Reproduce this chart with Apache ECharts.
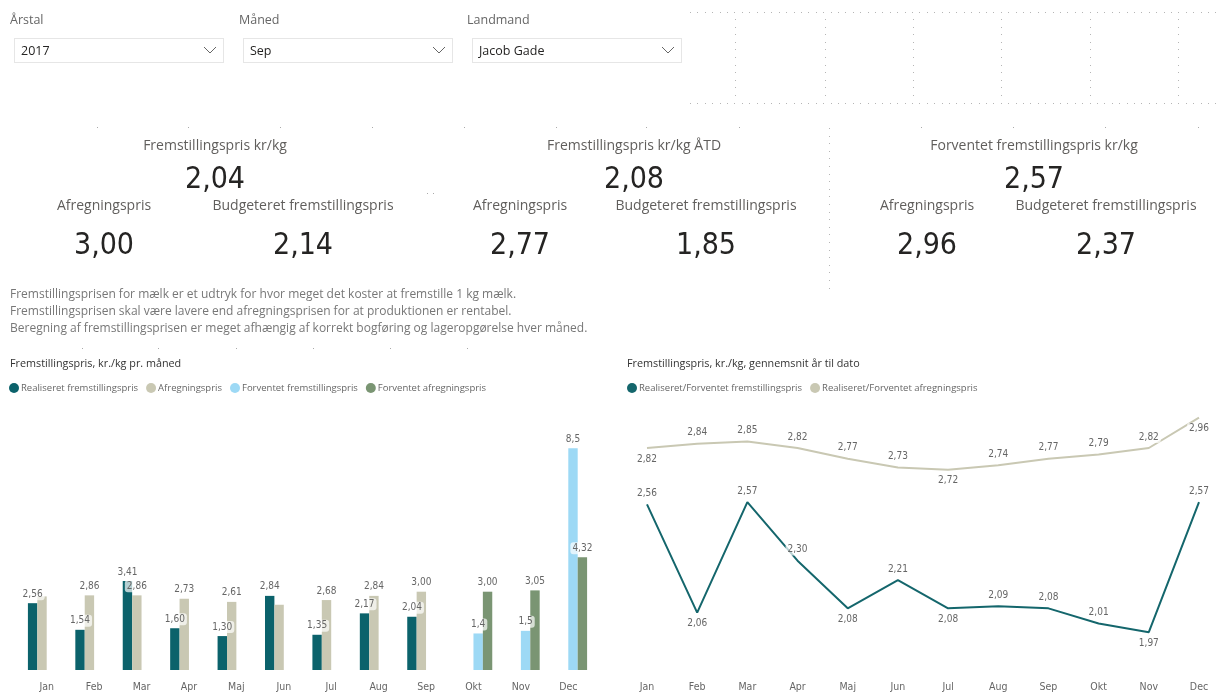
<!DOCTYPE html>
<html>
<head>
<meta charset="utf-8">
<script src="https://cdn.jsdelivr.net/npm/echarts@6/dist/echarts.min.js"></script>
<style>
  html, body { margin: 0; padding: 0; background: #fff; }
  body { width: 1219px; height: 693px; position: relative; overflow: hidden; font-family: 'Open Sans', 'Noto Sans', sans-serif; }
  #chart { position: absolute; left: 0; top: 0; width: 1219px; height: 693px; }
  .abs { position: absolute; white-space: nowrap; }
  .slicer-title { font-size: 12.5px; color: #666; }
  .slicer-box { position: absolute; top: 38px; width: 210px; height: 25px; border: 1px solid #e6e6e6; box-sizing: border-box; font-size: 12.5px; color: #252423; line-height: 24px; padding-left: 6px; }
  .slicer-box svg { position: absolute; right: 6px; top: 7px; }
  .c { transform: translate(-50%, -50%); }
  .kpi-label { font-size: 14px; color: #605e5c; }
  .kpi-value { font-size: 30px; color: #252423; font-family: 'Liberation Sans Narrow', 'DejaVu Sans Condensed', 'Roboto', sans-serif; }
  .desc { left: 10px; font-size: 12px; color: #777; line-height: 17px; }
  .hdots { position: absolute; height: 1px; background: repeating-linear-gradient(to right, #b5b5b5 0 1px, transparent 1px 7.4px); }
  .vdots { position: absolute; width: 1px; background: repeating-linear-gradient(to bottom, #b5b5b5 0 1px, transparent 1px 7.6px); }
  .dot { position: absolute; width: 1px; height: 1px; background: #aaa; }
</style>
</head>
<body>
<div id="chart"></div>

<!-- slicers -->
<div class="abs slicer-title" style="left:10px; top:11px;">Årstal</div>
<div class="slicer-box" style="left:14px;">2017<svg width="14" height="9"><polyline points="1,1 7,7 13,1" fill="none" stroke="#666" stroke-width="1"/></svg></div>
<div class="abs slicer-title" style="left:239px; top:11px;">Måned</div>
<div class="slicer-box" style="left:243px;">Sep<svg width="14" height="9"><polyline points="1,1 7,7 13,1" fill="none" stroke="#666" stroke-width="1"/></svg></div>
<div class="abs slicer-title" style="left:467px; top:11px;">Landmand</div>
<div class="slicer-box" style="left:472px;">Jacob Gade<svg width="14" height="9"><polyline points="1,1 7,7 13,1" fill="none" stroke="#666" stroke-width="1"/></svg></div>

<!-- empty placeholder visuals, top right -->
<div class="hdots" style="left:690px; top:12px; width:529px;"></div>
<div class="hdots" style="left:690px; top:103px; width:529px;"></div>
<div class="vdots" style="left:735px; top:19px; height:80px;"></div>
<div class="vdots" style="left:825px; top:19px; height:80px;"></div>
<div class="vdots" style="left:913px; top:19px; height:80px;"></div>
<div class="vdots" style="left:1001px; top:19px; height:80px;"></div>
<div class="vdots" style="left:1090px; top:19px; height:80px;"></div>
<div class="vdots" style="left:1178px; top:19px; height:80px;"></div>

<!-- KPI cards -->
<div id="kpis"></div>

<div class="vdots" style="left:829px; top:128px; height:165px;"></div>

<div class="abs desc" style="top:285px;">Fremstillingsprisen for mælk er et udtryk for hvor meget det koster at fremstille 1 kg mælk.<br>Fremstillingsprisen skal være lavere end afregningsprisen for at produktionen er rentabel.<br>Beregning af fremstillingsprisen er meget afhængig af korrekt bogføring og lageropgørelse hver måned.</div>

<script>
// KPI cards
const kpiTitles = ['Fremstillingspris kr/kg', 'Fremstillingspris kr/kg ÅTD', 'Forventet fremstillingspris kr/kg']
const kpiMain = ['2,04', '2,08', '2,57']
const kpiAfregning = ['3,00', '2,77', '2,96']
const kpiBudget = ['2,14', '1,85', '2,37']

// bar chart: monthly price
const months = ['Jan', 'Feb', 'Mar', 'Apr', 'Maj', 'Jun', 'Jul', 'Aug', 'Sep', 'Okt', 'Nov', 'Dec']
const realiseret = [2.56, 1.54, 3.41, 1.60, 1.30, 2.84, 1.35, 2.17, 2.04, null, null, null]
const afregning = [2.82, 2.86, 2.86, 2.73, 2.61, 2.50, 2.68, 2.84, 3.00, null, null, null]
const forventetFrem = [null, null, null, null, null, null, null, null, null, 1.4, 1.5, 8.5]
const forventetAfr = [null, null, null, null, null, null, null, null, null, 3.00, 3.05, 4.32]
const hiddenAfrLabels = ['Jan', 'Jun']

// line chart: year to date average
const ytdFrem = [2.56, 2.06, 2.57, 2.30, 2.08, 2.21, 2.08, 2.09, 2.08, 2.01, 1.97, 2.57]
const ytdAfr = [2.82, 2.84, 2.85, 2.82, 2.77, 2.73, 2.72, 2.74, 2.77, 2.79, 2.82, 2.96]

const kpiCenters = [[215, 104, 303], [634, 520, 706], [1034, 927, 1106]]
const kpiHtml = []
kpiTitles.forEach((t, i) => {
  const [cx, ax, bx] = kpiCenters[i]
  kpiHtml.push(`<div class="abs c kpi-label" style="left:${cx}px;top:144px">${t}</div>`)
  kpiHtml.push(`<div class="abs c kpi-value" style="left:${cx}px;top:177px">${kpiMain[i]}</div>`)
  kpiHtml.push(`<div class="abs c kpi-label" style="left:${ax}px;top:204px">Afregningspris</div>`)
  kpiHtml.push(`<div class="abs c kpi-label" style="left:${bx}px;top:204px">Budgeteret fremstillingspris</div>`)
  kpiHtml.push(`<div class="abs c kpi-value" style="left:${ax}px;top:243px">${kpiAfregning[i]}</div>`)
  kpiHtml.push(`<div class="abs c kpi-value" style="left:${bx}px;top:243px">${kpiBudget[i]}</div>`)
})
// loose placeholder dots
;[97, 188, 280, 372, 464, 556, 646, 739, 921, 1013, 1105, 1198].forEach(x => {
  kpiHtml.push(`<div class="dot" style="left:${x}px;top:127px"></div>`)
})
;[82, 158, 236, 313, 390, 467].forEach(x => {
  kpiHtml.push(`<div class="dot" style="left:${x}px;top:348px"></div>`)
})
kpiHtml.push('<div class="dot" style="left:427px;top:193px"></div><div class="dot" style="left:433px;top:193px"></div>')
document.getElementById('kpis').innerHTML = kpiHtml.join('')

const narrow = "'Liberation Sans Narrow', 'DejaVu Sans Condensed', 'Roboto', sans-serif"
const uiFont = "'Open Sans', 'Noto Sans', sans-serif"
const labelBox = {
  fontSize: 10,
  color: '#666',
  fontFamily: narrow,
  backgroundColor: 'rgba(255,255,255,0.7)',
  padding: [1, 2],
  borderRadius: 3
}
const fmt2 = v => v.value == null ? '' : v.value.toFixed(2).replace('.', ',')
const fmt1 = v => v.value == null ? '' : String(v.value).replace('.', ',')

const fremPos = ['top', 'bottom', 'top', 'top', 'bottom', 'top', 'bottom', 'top', 'top', 'top', 'bottom', 'top']
const afrPos = ['bottom', 'top', 'top', 'top', 'top', 'top', 'bottom', 'top', 'top', 'top', 'top', 'bottom']

const chart = echarts.init(document.getElementById('chart'))
chart.setOption({
  animation: false,
  textStyle: { fontFamily: uiFont },
  title: [
    { text: 'Fremstillingspris, kr./kg pr. måned', left: 10, top: 358, padding: 0, textStyle: { fontSize: 10.8, fontWeight: 'normal', color: '#333', fontFamily: uiFont } },
    { text: 'Fremstillingspris, kr./kg, gennemsnit år til dato', left: 627, top: 358, padding: 0, textStyle: { fontSize: 10.8, fontWeight: 'normal', color: '#333', fontFamily: uiFont } }
  ],
  legend: [
    {
      left: 9, top: 383, padding: 0, icon: 'circle', itemWidth: 10, itemHeight: 10, itemGap: 8,
      textStyle: { fontSize: 9.5, color: '#666', fontFamily: uiFont, padding: [0, 0, 0, -3] },
      data: ['Realiseret fremstillingspris', 'Afregningspris', 'Forventet fremstillingspris', 'Forventet afregningspris']
    },
    {
      left: 627, top: 383, padding: 0, icon: 'circle', itemWidth: 10, itemHeight: 10, itemGap: 8,
      textStyle: { fontSize: 9.5, color: '#666', fontFamily: uiFont, padding: [0, 0, 0, -3] },
      data: ['Realiseret/Forventet fremstillingspris', 'Realiseret/Forventet afregningspris']
    }
  ],
  grid: [
    { left: 23, width: 569, top: 409, height: 261 },
    { left: 647, width: 552, top: 409, height: 260 }
  ],
  xAxis: [
    {
      gridIndex: 0, type: 'category', data: months,
      axisLine: { show: false }, axisTick: { show: false },
      axisLabel: { color: '#666', fontSize: 10.5, fontFamily: narrow, margin: 12 }
    },
    {
      gridIndex: 1, type: 'category', data: months, boundaryGap: false,
      axisLine: { show: false }, axisTick: { show: false },
      axisLabel: { color: '#666', fontSize: 10.5, fontFamily: narrow, margin: 13 }
    }
  ],
  yAxis: [
    { gridIndex: 0, type: 'value', min: 0, max: 10, show: false },
    { gridIndex: 1, type: 'value', min: 1.8, max: 3.0, show: false }
  ],
  series: [
    {
      name: 'Realiseret fremstillingspris', type: 'bar', xAxisIndex: 0, yAxisIndex: 0,
      data: realiseret, barWidth: 9.4, barGap: '0%', itemStyle: { color: '#0b626b' },
      label: { show: true, position: 'top', distance: 3, formatter: fmt2, ...labelBox }
    },
    {
      name: 'Afregningspris', type: 'bar', xAxisIndex: 0, yAxisIndex: 0,
      data: afregning.map((v, i) => ({ value: v, label: { show: v != null && !hiddenAfrLabels.includes(months[i]) } })),
      barWidth: 9.4, barGap: '0%', itemStyle: { color: '#c9c8b3' },
      label: { show: true, position: 'top', distance: 3, formatter: fmt2, ...labelBox }
    },
    {
      name: 'Forventet fremstillingspris', type: 'bar', xAxisIndex: 0, yAxisIndex: 0,
      data: forventetFrem, barWidth: 9.4, barGap: '0%', itemStyle: { color: '#9dd9f5' },
      label: { show: true, position: 'top', distance: 3, formatter: fmt1, ...labelBox }
    },
    {
      name: 'Forventet afregningspris', type: 'bar', xAxisIndex: 0, yAxisIndex: 0,
      data: forventetAfr, barWidth: 9.4, barGap: '0%', itemStyle: { color: '#7a9573' },
      label: { show: true, position: 'top', distance: 3, formatter: fmt2, ...labelBox }
    },
    {
      name: 'Realiseret/Forventet fremstillingspris', type: 'line', xAxisIndex: 1, yAxisIndex: 1,
      data: ytdFrem.map((v, i) => ({ value: v, label: { position: fremPos[i] } })),
      symbol: 'circle', symbolSize: 0.1, showSymbol: true, itemStyle: { color: '#14666c' },
      lineStyle: { width: 2, color: '#14666c' },
      label: { show: true, distance: 5, formatter: fmt2, ...labelBox }
    },
    {
      name: 'Realiseret/Forventet afregningspris', type: 'line', xAxisIndex: 1, yAxisIndex: 1,
      data: ytdAfr.map((v, i) => ({ value: v, label: { position: afrPos[i] } })),
      symbol: 'circle', symbolSize: 0.1, showSymbol: true, itemStyle: { color: '#c9c8b3' },
      lineStyle: { width: 2, color: '#c9c8b3' },
      label: { show: true, distance: 5, formatter: fmt2, ...labelBox }
    }
  ]
})
</script>
</body>
</html>
